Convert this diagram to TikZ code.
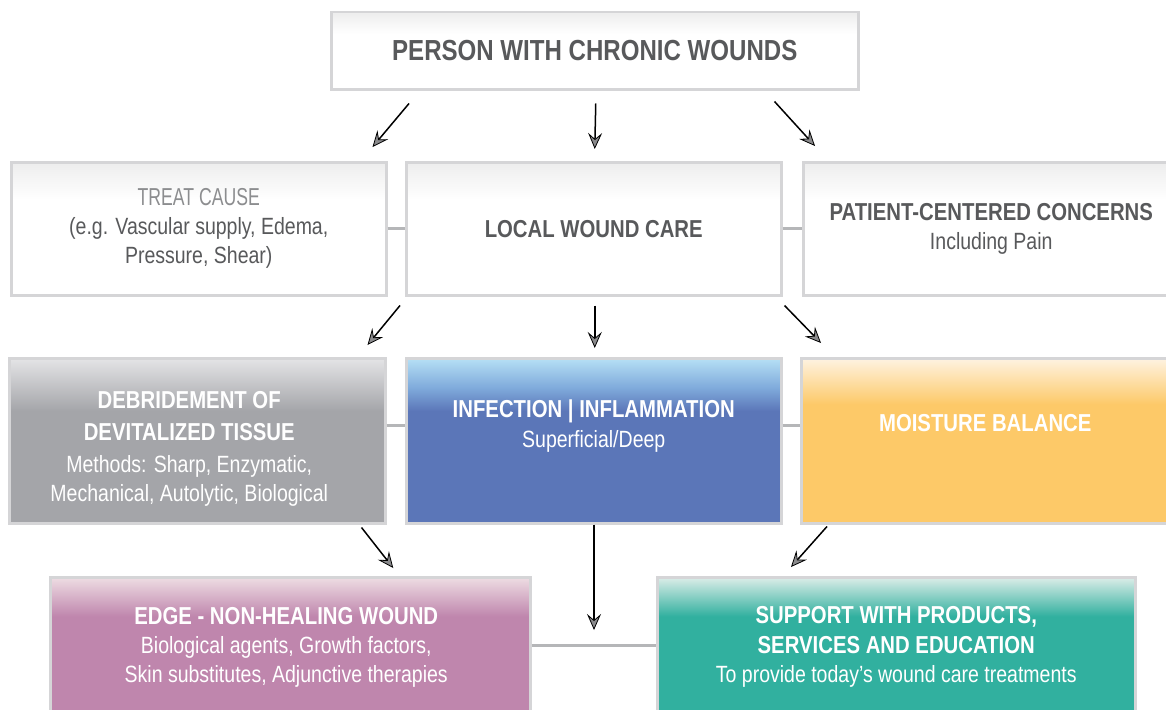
\documentclass[tikz,border=0pt]{standalone}
\usepackage{fontspec}
\setmainfont[FakeStretch=0.83]{Liberation Sans}
\newfontfamily\lightfont[FakeStretch=0.72]{Liberation Sans}
\usetikzlibrary{arrows.meta}

\definecolor{inkgrey}{HTML}{58595B}
\definecolor{lightink}{HTML}{8C8D8F}
\definecolor{edgeline}{HTML}{D5D5D7}
\definecolor{linkgrey}{HTML}{B5B6B8}
\definecolor{tipgrey}{HTML}{8A8A8C}
\definecolor{paletop}{HTML}{EDEDED}
\definecolor{greytop}{HTML}{E4E4E6}
\definecolor{greybase}{HTML}{A4A5A9}
\definecolor{bluetop}{HTML}{B6E0F5}
\definecolor{bluemid}{HTML}{7FAADB}
\definecolor{bluebase}{HTML}{5B76B8}
\definecolor{ambertop}{HTML}{FEF3E2}
\definecolor{amberbase}{HTML}{FDC968}
\definecolor{mauvetop}{HTML}{EEDDE3}
\definecolor{mauvebase}{HTML}{BF86AD}
\definecolor{tealtop}{HTML}{DCEDE8}
\definecolor{tealbase}{HTML}{31B09F}

\pgfdeclareverticalshading{whitefade}{100bp}{color(0bp)=(white); color(61bp)=(white); color(75bp)=(paletop); color(100bp)=(paletop)}
\pgfdeclareverticalshading{greyfade}{100bp}{color(0bp)=(greybase); color(59bp)=(greybase); color(75bp)=(greytop); color(100bp)=(greytop)}
\pgfdeclareverticalshading{bluefade}{100bp}{color(0bp)=(bluebase); color(59bp)=(bluebase); color(66bp)=(bluemid); color(75bp)=(bluetop); color(100bp)=(bluetop)}
\pgfdeclareverticalshading{amberfade}{100bp}{color(0bp)=(amberbase); color(61bp)=(amberbase); color(75bp)=(ambertop); color(100bp)=(ambertop)}
\pgfdeclareverticalshading{mauvefade}{100bp}{color(0bp)=(mauvebase); color(61bp)=(mauvebase); color(75bp)=(mauvetop); color(100bp)=(mauvetop)}
\pgfdeclareverticalshading{tealfade}{100bp}{color(0bp)=(tealbase); color(61bp)=(tealbase); color(75bp)=(tealtop); color(100bp)=(tealtop)}

\tikzset{
  box/.style={draw=edgeline, line width=2.5pt, anchor=north west, inner sep=0pt, shading=#1},
  boxtext/.style={align=center, font=\fontsize{23.5}{29}\selectfont},
  link/.style={linkgrey, line width=3pt},
  flow/.style={line width=1.5pt, -{Stealth[length=16pt, width=14pt, inset=6pt, line width=0.8pt, fill=tipgrey]}}
}
\newcommand{\hd}[1]{{\bfseries\fontsize{24.5}{31}\selectfont #1}}

\begin{document}
\begin{tikzpicture}[x=1pt, y=-1pt]
\useasboundingbox (0,0) rectangle (1166,709);
\clip (0,0) rectangle (1166,709);

% boxes
\node[box=whitefade, minimum width=527pt, minimum height=77pt] (top) at (330,11) {};
\node[box=whitefade, minimum width=375pt, minimum height=133pt] (treat) at (10,161) {};
\node[box=whitefade, minimum width=375pt, minimum height=133pt] (local) at (405,161) {};
\node[box=whitefade, minimum width=376pt, minimum height=133pt] (patient) at (802,161) {};
\node[box=greyfade, minimum width=376pt, minimum height=165pt] (debride) at (8,357) {};
\node[box=bluefade, minimum width=375pt, minimum height=165pt] (infect) at (405,357) {};
\node[box=amberfade, minimum width=368pt, minimum height=165pt] (moist) at (800,357) {};
\node[box=mauvefade, minimum width=480pt, minimum height=140pt] (edge) at (49,576) {};
\node[box=tealfade, minimum width=478pt, minimum height=140pt] (support) at (656,576) {};

% texts
\node[boxtext, text=inkgrey, font=\bfseries\fontsize{29}{34}\selectfont] at (top) {PERSON WITH CHRONIC WOUNDS};
\node[boxtext, text=inkgrey] at (treat) {{\lightfont\fontsize{24.5}{29}\selectfont\color{lightink}TREAT CAUSE}\\(e.g. Vascular supply, Edema,\\Pressure, Shear)};
\node[boxtext, text=inkgrey] at (local) {\hd{LOCAL WOUND CARE}};
\node[boxtext, text=inkgrey] at (patient) {\hd{PATIENT-CENTERED CONCERNS}\\Including Pain};
\node[boxtext, text=white] at ([shift={(-8,8)}]debride.center) {\hd{DEBRIDEMENT OF}\\[3pt]\hd{DEVITALIZED TISSUE}\\[3pt]Methods: Sharp, Enzymatic,\\Mechanical, Autolytic, Biological};
\node[boxtext, text=white] at ([yshift=15pt]infect.center) {\hd{INFECTION | INFLAMMATION}\\[1pt]Superficial/Deep};
\node[boxtext, text=white] at ([yshift=18pt]moist.center) {\hd{MOISTURE BALANCE}};
\node[boxtext, text=white] at ([xshift=-4pt]edge.center) {\hd{EDGE - NON-HEALING WOUND}\\Biological agents, Growth factors,\\Skin substitutes, Adjunctive therapies};
\node[boxtext, text=white] at (support) {\hd{SUPPORT WITH PRODUCTS,}\\[1pt]\hd{SERVICES AND EDUCATION}\\To provide today’s wound care treatments};

% side links
\draw[link] (treat) -- (local);
\draw[link] (local) -- (patient);
\draw[link] ([yshift=15pt]debride.east) -- ([yshift=15pt]infect.west);
\draw[link] ([yshift=15pt]infect.east) -- ([yshift=15pt]moist.west);
\draw[link] ([yshift=2pt]edge.east) -- ([yshift=2pt]support.west);

% arrows
\coordinate (hub) at (594,630);
\draw[flow] ([shift={(79,13)}]top.south west) -- ([shift={(-15,-14)}]treat.north east);
\draw[flow] ([shift={(1,13)}]top.south) -- ([shift={(1,-12)}]local.north);
\draw[flow] ([shift={(-85,11)}]top.south east) -- ([shift={(13,-15)}]patient.north west);
\draw[flow] ([shift={(-5,9)}]local.south west) -- ([shift={(-19,-12)}]debride.north east);
\draw[flow] ([shift={(1,9)}]local.south) -- ([shift={(1,-9)}]infect.north);
\draw[flow] ([shift={(2,9)}]local.south east) -- ([shift={(21,-14)}]moist.north west);
\draw[flow] ([shift={(-25,3)}]debride.south east) -- ([shift={(103,-8)}]edge.north);
\draw[flow] (infect.south -| hub) -- (hub);
\draw[flow] ([shift={(27,2)}]moist.south west) -- ([shift={(135,-9)}]support.north west);
\end{tikzpicture}
\end{document}
